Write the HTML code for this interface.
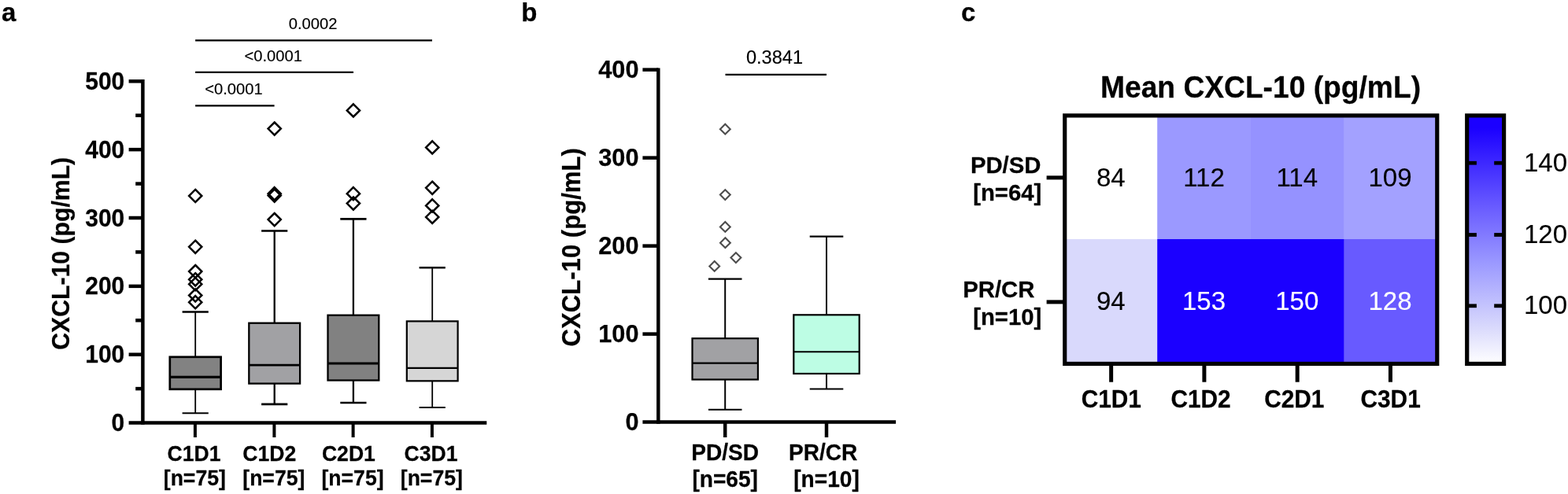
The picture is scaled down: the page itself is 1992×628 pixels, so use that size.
<!DOCTYPE html>
<html lang="en">
<head>
<meta charset="utf-8">
<title>CXCL-10 figure</title>
<style>
html,body{margin:0;padding:0;background:#fff;}
body{width:1992px;height:628px;overflow:hidden;}
svg{display:block;font-family:"Liberation Sans", sans-serif;}
</style>
</head>
<body>
<svg width="1992" height="628" viewBox="0 0 1992 628">
<rect x="0" y="0" width="1992" height="628" fill="#ffffff"/>
<text transform="translate(2.00,26.90) scale(1,1.0)" font-size="33" font-weight="bold" text-anchor="start" fill="#000" stroke="#000" stroke-width="0.25" stroke-linejoin="round" >a</text>
<text transform="translate(662.30,26.90) scale(1,1.0)" font-size="33" font-weight="bold" text-anchor="start" fill="#000" stroke="#000" stroke-width="0.25" stroke-linejoin="round" >b</text>
<text transform="translate(1221.00,26.90) scale(1,1.0)" font-size="33" font-weight="bold" text-anchor="start" fill="#000" stroke="#000" stroke-width="0.25" stroke-linejoin="round" >c</text>
<line x1="181.40" y1="101.05" x2="181.40" y2="539.80" stroke="#000" stroke-width="4.5" stroke-linecap="butt"/>
<line x1="163.60" y1="537.55" x2="618.30" y2="537.55" stroke="#000" stroke-width="4.5" stroke-linecap="butt"/>
<line x1="172.20" y1="494.12" x2="181.40" y2="494.12" stroke="#000" stroke-width="4.5" stroke-linecap="butt"/>
<line x1="163.60" y1="450.70" x2="181.40" y2="450.70" stroke="#000" stroke-width="4.5" stroke-linecap="butt"/>
<line x1="172.20" y1="407.27" x2="181.40" y2="407.27" stroke="#000" stroke-width="4.5" stroke-linecap="butt"/>
<line x1="163.60" y1="363.85" x2="181.40" y2="363.85" stroke="#000" stroke-width="4.5" stroke-linecap="butt"/>
<line x1="172.20" y1="320.42" x2="181.40" y2="320.42" stroke="#000" stroke-width="4.5" stroke-linecap="butt"/>
<line x1="163.60" y1="277.00" x2="181.40" y2="277.00" stroke="#000" stroke-width="4.5" stroke-linecap="butt"/>
<line x1="172.20" y1="233.57" x2="181.40" y2="233.57" stroke="#000" stroke-width="4.5" stroke-linecap="butt"/>
<line x1="163.60" y1="190.15" x2="181.40" y2="190.15" stroke="#000" stroke-width="4.5" stroke-linecap="butt"/>
<line x1="172.20" y1="146.72" x2="181.40" y2="146.72" stroke="#000" stroke-width="4.5" stroke-linecap="butt"/>
<line x1="163.60" y1="103.30" x2="181.40" y2="103.30" stroke="#000" stroke-width="4.5" stroke-linecap="butt"/>
<text transform="translate(158.30,548.15) scale(1,1.025)" font-size="30.0" font-weight="bold" text-anchor="end" fill="#000" stroke="#000" stroke-width="0.25" stroke-linejoin="round" >0</text>
<text transform="translate(158.30,461.30) scale(1,1.025)" font-size="30.0" font-weight="bold" text-anchor="end" fill="#000" stroke="#000" stroke-width="0.25" stroke-linejoin="round" >100</text>
<text transform="translate(158.30,374.45) scale(1,1.025)" font-size="30.0" font-weight="bold" text-anchor="end" fill="#000" stroke="#000" stroke-width="0.25" stroke-linejoin="round" >200</text>
<text transform="translate(158.30,287.60) scale(1,1.025)" font-size="30.0" font-weight="bold" text-anchor="end" fill="#000" stroke="#000" stroke-width="0.25" stroke-linejoin="round" >300</text>
<text transform="translate(158.30,200.75) scale(1,1.025)" font-size="30.0" font-weight="bold" text-anchor="end" fill="#000" stroke="#000" stroke-width="0.25" stroke-linejoin="round" >400</text>
<text transform="translate(158.30,113.90) scale(1,1.025)" font-size="30.0" font-weight="bold" text-anchor="end" fill="#000" stroke="#000" stroke-width="0.25" stroke-linejoin="round" >500</text>
<text transform="translate(87.7,322.3) rotate(-90) scale(1,1.045)" font-size="30.2" font-weight="bold" text-anchor="middle" stroke="#000" stroke-width="0.25" stroke-linejoin="round">CXCL-10 (pg/mL)</text>
<line x1="247.90" y1="537.55" x2="247.90" y2="556.00" stroke="#000" stroke-width="4.0" stroke-linecap="butt"/>
<line x1="348.40" y1="537.55" x2="348.40" y2="556.00" stroke="#000" stroke-width="4.0" stroke-linecap="butt"/>
<line x1="448.60" y1="537.55" x2="448.60" y2="556.00" stroke="#000" stroke-width="4.0" stroke-linecap="butt"/>
<line x1="548.90" y1="537.55" x2="548.90" y2="556.00" stroke="#000" stroke-width="4.0" stroke-linecap="butt"/>
<text transform="translate(246.60,585.80) scale(1,1.045)" font-size="26.6" font-weight="bold" text-anchor="middle" fill="#000" stroke="#000" stroke-width="0.25" stroke-linejoin="round" >C1D1</text>
<text transform="translate(247.30,617.40) scale(1,1.045)" font-size="26.6" font-weight="bold" text-anchor="middle" fill="#000" stroke="#000" stroke-width="0.25" stroke-linejoin="round" >[n=75]</text>
<text transform="translate(342.30,585.80) scale(1,1.045)" font-size="26.6" font-weight="bold" text-anchor="middle" fill="#000" stroke="#000" stroke-width="0.25" stroke-linejoin="round" >C1D2</text>
<text transform="translate(347.80,617.40) scale(1,1.045)" font-size="26.6" font-weight="bold" text-anchor="middle" fill="#000" stroke="#000" stroke-width="0.25" stroke-linejoin="round" >[n=75]</text>
<text transform="translate(442.90,585.80) scale(1,1.045)" font-size="26.6" font-weight="bold" text-anchor="middle" fill="#000" stroke="#000" stroke-width="0.25" stroke-linejoin="round" >C2D1</text>
<text transform="translate(448.00,617.40) scale(1,1.045)" font-size="26.6" font-weight="bold" text-anchor="middle" fill="#000" stroke="#000" stroke-width="0.25" stroke-linejoin="round" >[n=75]</text>
<text transform="translate(547.60,585.80) scale(1,1.045)" font-size="26.6" font-weight="bold" text-anchor="middle" fill="#000" stroke="#000" stroke-width="0.25" stroke-linejoin="round" >C3D1</text>
<text transform="translate(548.30,617.40) scale(1,1.045)" font-size="26.6" font-weight="bold" text-anchor="middle" fill="#000" stroke="#000" stroke-width="0.25" stroke-linejoin="round" >[n=75]</text>
<line x1="248.10" y1="51.30" x2="549.00" y2="51.30" stroke="#000" stroke-width="2.3" stroke-linecap="butt"/>
<line x1="248.10" y1="91.80" x2="449.00" y2="91.80" stroke="#000" stroke-width="2.3" stroke-linecap="butt"/>
<line x1="248.10" y1="134.40" x2="348.60" y2="134.40" stroke="#000" stroke-width="2.3" stroke-linecap="butt"/>
<text transform="translate(397.60,37.20) scale(1,1.045)" font-size="20.2" font-weight="normal" text-anchor="middle" fill="#000" stroke="#000" stroke-width="0.15" stroke-linejoin="round" >0.0002</text>
<text transform="translate(347.20,77.50) scale(1,1.045)" font-size="20.2" font-weight="normal" text-anchor="middle" fill="#000" stroke="#000" stroke-width="0.15" stroke-linejoin="round" >&lt;0.0001</text>
<text transform="translate(297.00,120.40) scale(1,1.045)" font-size="20.2" font-weight="normal" text-anchor="middle" fill="#000" stroke="#000" stroke-width="0.15" stroke-linejoin="round" >&lt;0.0001</text>
<line x1="248.20" y1="396.50" x2="248.20" y2="453.80" stroke="#000" stroke-width="1.8" stroke-linecap="butt"/>
<line x1="248.20" y1="494.80" x2="248.20" y2="525.30" stroke="#000" stroke-width="1.8" stroke-linecap="butt"/>
<line x1="231.60" y1="396.50" x2="264.80" y2="396.50" stroke="#000" stroke-width="2.6" stroke-linecap="butt"/>
<line x1="231.60" y1="525.30" x2="264.80" y2="525.30" stroke="#000" stroke-width="2.1" stroke-linecap="butt"/>
<rect x="215.80" y="453.80" width="64.80" height="41.00" fill="#828282" stroke="#000" stroke-width="2.7"/>
<line x1="215.80" y1="479.40" x2="280.60" y2="479.40" stroke="#000" stroke-width="3.2" stroke-linecap="butt"/>
<line x1="348.70" y1="293.40" x2="348.70" y2="410.70" stroke="#000" stroke-width="2.3" stroke-linecap="butt"/>
<line x1="348.70" y1="487.60" x2="348.70" y2="513.80" stroke="#000" stroke-width="2.3" stroke-linecap="butt"/>
<line x1="332.10" y1="293.40" x2="365.30" y2="293.40" stroke="#000" stroke-width="2.5" stroke-linecap="butt"/>
<line x1="332.10" y1="513.80" x2="365.30" y2="513.80" stroke="#000" stroke-width="2.7" stroke-linecap="butt"/>
<rect x="316.30" y="410.70" width="64.80" height="76.90" fill="#a1a1a4" stroke="#000" stroke-width="2.3"/>
<line x1="316.30" y1="464.20" x2="381.10" y2="464.20" stroke="#000" stroke-width="2.7" stroke-linecap="butt"/>
<line x1="448.90" y1="278.30" x2="448.90" y2="400.70" stroke="#000" stroke-width="2.3" stroke-linecap="butt"/>
<line x1="448.90" y1="483.50" x2="448.90" y2="512.00" stroke="#000" stroke-width="2.3" stroke-linecap="butt"/>
<line x1="432.30" y1="278.30" x2="465.50" y2="278.30" stroke="#000" stroke-width="2.8" stroke-linecap="butt"/>
<line x1="432.30" y1="512.00" x2="465.50" y2="512.00" stroke="#000" stroke-width="2.6" stroke-linecap="butt"/>
<rect x="416.50" y="400.70" width="64.80" height="82.80" fill="#818181" stroke="#000" stroke-width="2.3"/>
<line x1="416.50" y1="462.00" x2="481.30" y2="462.00" stroke="#000" stroke-width="2.8" stroke-linecap="butt"/>
<line x1="549.20" y1="340.20" x2="549.20" y2="408.40" stroke="#000" stroke-width="1.8" stroke-linecap="butt"/>
<line x1="549.20" y1="484.30" x2="549.20" y2="518.10" stroke="#000" stroke-width="1.8" stroke-linecap="butt"/>
<line x1="532.60" y1="340.20" x2="565.80" y2="340.20" stroke="#000" stroke-width="2.6" stroke-linecap="butt"/>
<line x1="532.60" y1="518.10" x2="565.80" y2="518.10" stroke="#000" stroke-width="2.0" stroke-linecap="butt"/>
<rect x="516.80" y="408.40" width="64.80" height="75.90" fill="#d6d6d6" stroke="#000" stroke-width="2.2"/>
<line x1="516.80" y1="467.90" x2="581.60" y2="467.90" stroke="#000" stroke-width="2.2" stroke-linecap="butt"/>
<path d="M248.20 240.90L256.30 249.00L248.20 257.10L240.10 249.00Z" fill="none" stroke="#000" stroke-width="2.5" stroke-linejoin="miter"/>
<path d="M248.20 305.70L256.30 313.80L248.20 321.90L240.10 313.80Z" fill="none" stroke="#000" stroke-width="2.5" stroke-linejoin="miter"/>
<path d="M248.20 337.00L256.30 345.10L248.20 353.20L240.10 345.10Z" fill="none" stroke="#000" stroke-width="2.5" stroke-linejoin="miter"/>
<path d="M248.20 347.20L256.30 355.30L248.20 363.40L240.10 355.30Z" fill="none" stroke="#000" stroke-width="2.5" stroke-linejoin="miter"/>
<path d="M248.20 353.10L256.30 361.20L248.20 369.30L240.10 361.20Z" fill="none" stroke="#000" stroke-width="2.5" stroke-linejoin="miter"/>
<path d="M248.20 367.40L256.30 375.50L248.20 383.60L240.10 375.50Z" fill="none" stroke="#000" stroke-width="2.5" stroke-linejoin="miter"/>
<path d="M248.20 376.10L256.30 384.20L248.20 392.30L240.10 384.20Z" fill="none" stroke="#000" stroke-width="2.5" stroke-linejoin="miter"/>
<path d="M348.70 155.50L356.80 163.60L348.70 171.70L340.60 163.60Z" fill="none" stroke="#000" stroke-width="2.5" stroke-linejoin="miter"/>
<path d="M348.70 238.10L356.80 246.20L348.70 254.30L340.60 246.20Z" fill="none" stroke="#000" stroke-width="2.5" stroke-linejoin="miter"/>
<path d="M348.70 240.50L356.80 248.60L348.70 256.70L340.60 248.60Z" fill="none" stroke="#000" stroke-width="2.5" stroke-linejoin="miter"/>
<path d="M348.70 271.00L356.80 279.10L348.70 287.20L340.60 279.10Z" fill="none" stroke="#000" stroke-width="2.5" stroke-linejoin="miter"/>
<path d="M448.90 132.30L457.00 140.40L448.90 148.50L440.80 140.40Z" fill="none" stroke="#000" stroke-width="2.5" stroke-linejoin="miter"/>
<path d="M448.90 238.10L457.00 246.20L448.90 254.30L440.80 246.20Z" fill="none" stroke="#000" stroke-width="2.5" stroke-linejoin="miter"/>
<path d="M448.90 250.50L457.00 258.60L448.90 266.70L440.80 258.60Z" fill="none" stroke="#000" stroke-width="2.5" stroke-linejoin="miter"/>
<path d="M549.20 179.30L557.30 187.40L549.20 195.50L541.10 187.40Z" fill="none" stroke="#000" stroke-width="2.5" stroke-linejoin="miter"/>
<path d="M549.20 230.70L557.30 238.80L549.20 246.90L541.10 238.80Z" fill="none" stroke="#000" stroke-width="2.5" stroke-linejoin="miter"/>
<path d="M549.20 253.30L557.30 261.40L549.20 269.50L541.10 261.40Z" fill="none" stroke="#000" stroke-width="2.5" stroke-linejoin="miter"/>
<path d="M549.20 267.80L557.30 275.90L549.20 284.00L541.10 275.90Z" fill="none" stroke="#000" stroke-width="2.5" stroke-linejoin="miter"/>
<line x1="836.30" y1="86.39" x2="836.30" y2="538.85" stroke="#000" stroke-width="4.5" stroke-linecap="butt"/>
<line x1="816.40" y1="536.60" x2="1138.10" y2="536.60" stroke="#000" stroke-width="4.5" stroke-linecap="butt"/>
<line x1="816.40" y1="424.61" x2="836.30" y2="424.61" stroke="#000" stroke-width="4.5" stroke-linecap="butt"/>
<line x1="816.40" y1="312.62" x2="836.30" y2="312.62" stroke="#000" stroke-width="4.5" stroke-linecap="butt"/>
<line x1="816.40" y1="200.63" x2="836.30" y2="200.63" stroke="#000" stroke-width="4.5" stroke-linecap="butt"/>
<line x1="816.40" y1="88.64" x2="836.30" y2="88.64" stroke="#000" stroke-width="4.5" stroke-linecap="butt"/>
<text transform="translate(811.50,546.80) scale(1,1.0)" font-size="30.7" font-weight="bold" text-anchor="end" fill="#000" stroke="#000" stroke-width="0.25" stroke-linejoin="round" >0</text>
<text transform="translate(811.50,434.81) scale(1,1.0)" font-size="30.7" font-weight="bold" text-anchor="end" fill="#000" stroke="#000" stroke-width="0.25" stroke-linejoin="round" >100</text>
<text transform="translate(811.50,322.82) scale(1,1.0)" font-size="30.7" font-weight="bold" text-anchor="end" fill="#000" stroke="#000" stroke-width="0.25" stroke-linejoin="round" >200</text>
<text transform="translate(811.50,210.83) scale(1,1.0)" font-size="30.7" font-weight="bold" text-anchor="end" fill="#000" stroke="#000" stroke-width="0.25" stroke-linejoin="round" >300</text>
<text transform="translate(811.50,98.84) scale(1,1.0)" font-size="30.7" font-weight="bold" text-anchor="end" fill="#000" stroke="#000" stroke-width="0.25" stroke-linejoin="round" >400</text>
<text transform="translate(736.5,314.3) rotate(-90) scale(1,1.045)" font-size="31.1" font-weight="bold" text-anchor="middle" stroke="#000" stroke-width="0.25" stroke-linejoin="round">CXCL-10 (pg/mL)</text>
<line x1="921.20" y1="536.60" x2="921.20" y2="556.00" stroke="#000" stroke-width="4.5" stroke-linecap="butt"/>
<line x1="1050.00" y1="536.60" x2="1050.00" y2="556.00" stroke="#000" stroke-width="4.5" stroke-linecap="butt"/>
<text transform="translate(921.20,585.00) scale(1,1.045)" font-size="28.1" font-weight="bold" text-anchor="middle" fill="#000" stroke="#000" stroke-width="0.25" stroke-linejoin="round" >PD/SD</text>
<text transform="translate(921.20,618.60) scale(1,1.045)" font-size="28.1" font-weight="bold" text-anchor="middle" fill="#000" stroke="#000" stroke-width="0.25" stroke-linejoin="round" >[n=65]</text>
<text transform="translate(1045.70,585.00) scale(1,1.045)" font-size="28.1" font-weight="bold" text-anchor="middle" fill="#000" stroke="#000" stroke-width="0.25" stroke-linejoin="round" >PR/CR</text>
<text transform="translate(1050.00,618.60) scale(1,1.045)" font-size="28.1" font-weight="bold" text-anchor="middle" fill="#000" stroke="#000" stroke-width="0.25" stroke-linejoin="round" >[n=10]</text>
<line x1="921.50" y1="94.90" x2="1050.00" y2="94.90" stroke="#000" stroke-width="2.4" stroke-linecap="butt"/>
<text transform="translate(984.00,80.50) scale(1,1.045)" font-size="23.6" font-weight="normal" text-anchor="middle" fill="#000" stroke="#000" stroke-width="0.15" stroke-linejoin="round" >0.3841</text>
<line x1="921.20" y1="354.60" x2="921.20" y2="430.20" stroke="#000" stroke-width="2.0" stroke-linecap="butt"/>
<line x1="921.20" y1="482.50" x2="921.20" y2="520.80" stroke="#000" stroke-width="2.0" stroke-linecap="butt"/>
<line x1="899.90" y1="354.60" x2="942.50" y2="354.60" stroke="#000" stroke-width="2.2" stroke-linecap="butt"/>
<line x1="899.90" y1="520.80" x2="942.50" y2="520.80" stroke="#000" stroke-width="2.0" stroke-linecap="butt"/>
<rect x="879.50" y="430.20" width="83.40" height="52.30" fill="#a1a1a4" stroke="#000" stroke-width="2.2"/>
<line x1="879.50" y1="461.60" x2="962.90" y2="461.60" stroke="#000" stroke-width="2.1" stroke-linecap="butt"/>
<line x1="1050.00" y1="300.70" x2="1050.00" y2="400.30" stroke="#000" stroke-width="2.0" stroke-linecap="butt"/>
<line x1="1050.00" y1="475.00" x2="1050.00" y2="494.40" stroke="#000" stroke-width="2.0" stroke-linecap="butt"/>
<line x1="1028.70" y1="300.70" x2="1071.30" y2="300.70" stroke="#000" stroke-width="2.2" stroke-linecap="butt"/>
<line x1="1028.70" y1="494.40" x2="1071.30" y2="494.40" stroke="#000" stroke-width="2.0" stroke-linecap="butt"/>
<rect x="1008.30" y="400.30" width="83.40" height="74.70" fill="#bdfde4" stroke="#000" stroke-width="2.2"/>
<line x1="1008.30" y1="447.20" x2="1091.70" y2="447.20" stroke="#000" stroke-width="2.1" stroke-linecap="butt"/>
<path d="M921.30 157.80L927.70 164.20L921.30 170.60L914.90 164.20Z" fill="none" stroke="#4d4d4d" stroke-width="2.1" stroke-linejoin="miter"/>
<path d="M921.30 241.20L927.70 247.60L921.30 254.00L914.90 247.60Z" fill="none" stroke="#4d4d4d" stroke-width="2.1" stroke-linejoin="miter"/>
<path d="M921.30 282.00L927.70 288.40L921.30 294.80L914.90 288.40Z" fill="none" stroke="#4d4d4d" stroke-width="2.1" stroke-linejoin="miter"/>
<path d="M921.40 302.30L927.80 308.70L921.40 315.10L915.00 308.70Z" fill="none" stroke="#4d4d4d" stroke-width="2.1" stroke-linejoin="miter"/>
<path d="M934.90 321.20L941.30 327.60L934.90 334.00L928.50 327.60Z" fill="none" stroke="#4d4d4d" stroke-width="2.1" stroke-linejoin="miter"/>
<path d="M907.70 332.00L914.10 338.40L907.70 344.80L901.30 338.40Z" fill="none" stroke="#4d4d4d" stroke-width="2.1" stroke-linejoin="miter"/>
<text transform="translate(1601.50,124.40) scale(1,1.03)" font-size="37.2" font-weight="bold" text-anchor="middle" fill="#000" stroke="#000" stroke-width="0.25" stroke-linejoin="round" >Mean CXCL-10 (pg/mL)</text>
<rect x="1352.70" y="146.90" width="118.00" height="157.60" fill="#ffffff" stroke="none" stroke-width="0"/>
<rect x="1470.20" y="146.90" width="119.30" height="157.60" fill="#9b99ff" stroke="none" stroke-width="0"/>
<rect x="1589.00" y="146.90" width="118.90" height="157.60" fill="#9592ff" stroke="none" stroke-width="0"/>
<rect x="1707.40" y="146.90" width="118.35" height="157.60" fill="#a3a1ff" stroke="none" stroke-width="0"/>
<rect x="1352.70" y="304.00" width="118.00" height="158.45" fill="#d9d9fc" stroke="none" stroke-width="0"/>
<rect x="1470.20" y="304.00" width="119.30" height="158.45" fill="#1b00ff" stroke="none" stroke-width="0"/>
<rect x="1589.00" y="304.00" width="118.90" height="158.45" fill="#1b00ff" stroke="none" stroke-width="0"/>
<rect x="1707.40" y="304.00" width="118.35" height="158.45" fill="#685aff" stroke="none" stroke-width="0"/>
<text transform="translate(1411.23,236.80) scale(1,1.03)" font-size="33" font-weight="normal" text-anchor="middle" fill="#000" stroke="#000" stroke-width="0.15" stroke-linejoin="round" >84</text>
<text transform="translate(1529.49,236.80) scale(1,1.03)" font-size="33" font-weight="normal" text-anchor="middle" fill="#000" stroke="#000" stroke-width="0.15" stroke-linejoin="round" >112</text>
<text transform="translate(1647.76,236.80) scale(1,1.03)" font-size="33" font-weight="normal" text-anchor="middle" fill="#000" stroke="#000" stroke-width="0.15" stroke-linejoin="round" >114</text>
<text transform="translate(1766.02,236.80) scale(1,1.03)" font-size="33" font-weight="normal" text-anchor="middle" fill="#000" stroke="#000" stroke-width="0.15" stroke-linejoin="round" >109</text>
<text transform="translate(1411.23,394.30) scale(1,1.03)" font-size="33" font-weight="normal" text-anchor="middle" fill="#000" stroke="#000" stroke-width="0.15" stroke-linejoin="round" >94</text>
<text transform="translate(1529.49,394.30) scale(1,1.03)" font-size="33" font-weight="normal" text-anchor="middle" fill="#fff" stroke="#fff" stroke-width="0.15" stroke-linejoin="round" >153</text>
<text transform="translate(1647.76,394.30) scale(1,1.03)" font-size="33" font-weight="normal" text-anchor="middle" fill="#fff" stroke="#fff" stroke-width="0.15" stroke-linejoin="round" >150</text>
<text transform="translate(1766.02,394.30) scale(1,1.03)" font-size="33" font-weight="normal" text-anchor="middle" fill="#fff" stroke="#fff" stroke-width="0.15" stroke-linejoin="round" >128</text>
<rect x="1352.70" y="146.90" width="473.05" height="315.55" fill="none" stroke="#000" stroke-width="5.2"/>
<line x1="1329.60" y1="225.85" x2="1352.70" y2="225.85" stroke="#000" stroke-width="5.0" stroke-linecap="butt"/>
<line x1="1329.60" y1="383.90" x2="1352.70" y2="383.90" stroke="#000" stroke-width="5.0" stroke-linecap="butt"/>
<line x1="1411.63" y1="462.45" x2="1411.63" y2="485.70" stroke="#000" stroke-width="5.0" stroke-linecap="butt"/>
<text transform="translate(1411.83,517.90) scale(1,1.03)" font-size="29.8" font-weight="bold" text-anchor="middle" fill="#000" stroke="#000" stroke-width="0.25" stroke-linejoin="round" >C1D1</text>
<line x1="1529.89" y1="462.45" x2="1529.89" y2="485.70" stroke="#000" stroke-width="5.0" stroke-linecap="butt"/>
<text transform="translate(1525.59,517.90) scale(1,1.03)" font-size="29.8" font-weight="bold" text-anchor="middle" fill="#000" stroke="#000" stroke-width="0.25" stroke-linejoin="round" >C1D2</text>
<line x1="1648.16" y1="462.45" x2="1648.16" y2="485.70" stroke="#000" stroke-width="5.0" stroke-linecap="butt"/>
<text transform="translate(1644.26,517.90) scale(1,1.03)" font-size="29.8" font-weight="bold" text-anchor="middle" fill="#000" stroke="#000" stroke-width="0.25" stroke-linejoin="round" >C2D1</text>
<line x1="1766.42" y1="462.45" x2="1766.42" y2="485.70" stroke="#000" stroke-width="5.0" stroke-linecap="butt"/>
<text transform="translate(1766.62,517.90) scale(1,1.03)" font-size="29.8" font-weight="bold" text-anchor="middle" fill="#000" stroke="#000" stroke-width="0.25" stroke-linejoin="round" >C3D1</text>
<text transform="translate(1322.40,219.80) scale(1,1.03)" font-size="29.3" font-weight="bold" text-anchor="end" fill="#000" stroke="#000" stroke-width="0.25" stroke-linejoin="round" >PD/SD</text>
<text transform="translate(1323.30,254.60) scale(1,1.03)" font-size="29.3" font-weight="bold" text-anchor="end" fill="#000" stroke="#000" stroke-width="0.25" stroke-linejoin="round" >[n=64]</text>
<text transform="translate(1314.40,377.60) scale(1,1.03)" font-size="29.3" font-weight="bold" text-anchor="end" fill="#000" stroke="#000" stroke-width="0.25" stroke-linejoin="round" >PR/CR</text>
<text transform="translate(1323.30,412.80) scale(1,1.03)" font-size="29.3" font-weight="bold" text-anchor="end" fill="#000" stroke="#000" stroke-width="0.25" stroke-linejoin="round" >[n=10]</text>
<defs><linearGradient id="cb" x1="0" y1="0" x2="0" y2="1"><stop offset="0" stop-color="#1b00ff"/><stop offset="0.05" stop-color="#1b00ff"/><stop offset="0.364" stop-color="#685aff"/><stop offset="0.594" stop-color="#9b99ff"/><stop offset="0.853" stop-color="#d9d9fc"/><stop offset="1" stop-color="#ffffff"/></linearGradient></defs>
<rect x="1863.70" y="146.90" width="46.90" height="315.55" fill="url(#cb)" stroke="#000" stroke-width="5.2"/>
<line x1="1863.70" y1="207.20" x2="1875.90" y2="207.20" stroke="#000" stroke-width="4.8" stroke-linecap="butt"/>
<line x1="1898.20" y1="207.20" x2="1910.60" y2="207.20" stroke="#000" stroke-width="4.8" stroke-linecap="butt"/>
<text transform="translate(1936.00,217.80) scale(1,1.03)" font-size="33" font-weight="normal" text-anchor="start" fill="#000" stroke="#000" stroke-width="0.15" stroke-linejoin="round" >140</text>
<line x1="1863.70" y1="298.50" x2="1875.90" y2="298.50" stroke="#000" stroke-width="4.8" stroke-linecap="butt"/>
<line x1="1898.20" y1="298.50" x2="1910.60" y2="298.50" stroke="#000" stroke-width="4.8" stroke-linecap="butt"/>
<text transform="translate(1936.00,309.10) scale(1,1.03)" font-size="33" font-weight="normal" text-anchor="start" fill="#000" stroke="#000" stroke-width="0.15" stroke-linejoin="round" >120</text>
<line x1="1863.70" y1="388.80" x2="1875.90" y2="388.80" stroke="#000" stroke-width="4.8" stroke-linecap="butt"/>
<line x1="1898.20" y1="388.80" x2="1910.60" y2="388.80" stroke="#000" stroke-width="4.8" stroke-linecap="butt"/>
<text transform="translate(1936.00,399.40) scale(1,1.03)" font-size="33" font-weight="normal" text-anchor="start" fill="#000" stroke="#000" stroke-width="0.15" stroke-linejoin="round" >100</text>
</svg>
</body>
</html>
